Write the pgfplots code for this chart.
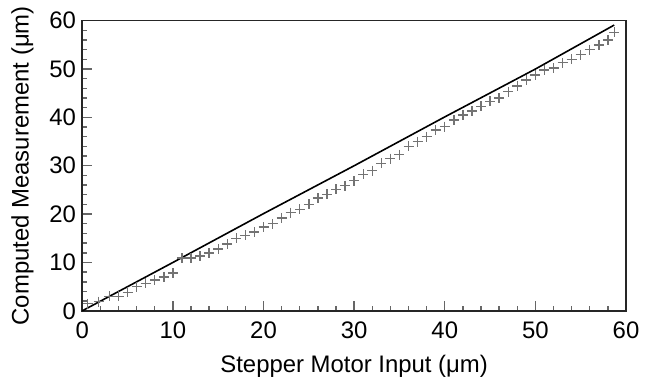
\documentclass[border=0pt]{standalone}
\usepackage{pgfplots}
\pgfplotsset{compat=1.18}
\usepackage{fontspec}
\setmainfont{Liberation Sans}
\begin{document}
\fontsize{12}{14}\selectfont
\begin{tikzpicture}
\begin{axis}[
  scale only axis,
  width=272bp, height=145.15bp,
  xmin=0, xmax=60, ymin=0, ymax=60,
  xtick={0,10,...,60}, ytick={0,10,...,60},
  minor x tick num=4, minor y tick num=4,
  xtick pos=left, ytick pos=left,
  tick align=inside,
  major tick length=5bp, minor tick length=2.5bp,
  every tick/.style={gray!80!black, line width=0.7bp},
  axis line style={black!85, line width=0.8bp},
  /pgf/number format/assume math mode=true,
  tick label style={font=\fontsize{12}{14}\selectfont},
  xticklabel style={yshift=-1.5bp},
  yticklabel style={xshift=1bp},
  xlabel={Stepper Motor Input (μm)},
  ylabel={Computed Measurement (μm)},
  xlabel style={at={(rel axis cs:0.5,-0.19)}, anchor=center, font=\fontsize{12}{14}\selectfont},
  ylabel style={at={(rel axis cs:-0.11,0.5)}, anchor=center, font=\fontsize{12}{14}\selectfont},
  clip=false,
]
\addplot[black, line width=0.8bp] coordinates {
 (0,0) (10,10) (20,20.1) (30,30) (40,40.1) (50,50) (58.7,59.1)
};
\addplot[only marks, mark=+, mark size=2.5bp, gray!90!black, mark options={line width=0.7bp}] coordinates {
 (0.6,1.5) (1.8,1.9) (3,3.0) (4,3.0) (5,3.8) (6,5.0) (7,5.7) (8,6.4) (9,7.0) (10,7.8)
 (11,10.9) (12,10.9) (13,11.3) (14,12.0) (15,12.8) (16,13.8) (17,15.0) (18,15.6) (19,16.3) (20,17.3)
 (21,18.0) (22,19.2) (23,20.3) (24,21.0) (25,22.0) (26,23.3) (27,24.1) (28,25.1) (29,25.9) (30,26.9)
 (31,28.2) (32,29.0) (33,30.5) (34,31.5) (35,32.3) (36,34.0) (37,35.0) (38,36.0) (39,37.4) (40,38.1)
 (41,39.5) (42,40.5) (43,41.3) (44,42.3) (45,43.3) (46,44.0) (47,45.3) (48,46.5) (49,47.7) (50,48.8)
 (51,49.8) (52,50.2) (53,51.3) (54,52.0) (55,53.0) (56,54.0) (57,55.0) (58,56.0) (58.7,57.6)
};
\path (rel axis cs:0,0) coordinate (SW) (rel axis cs:1,1) coordinate (NE);
\end{axis}
\pgfresetboundingbox
\path ([xshift=-41.15bp,yshift=-36bp]SW) rectangle ([xshift=10.5bp,yshift=10.35bp]NE);
\end{tikzpicture}
\end{document}
